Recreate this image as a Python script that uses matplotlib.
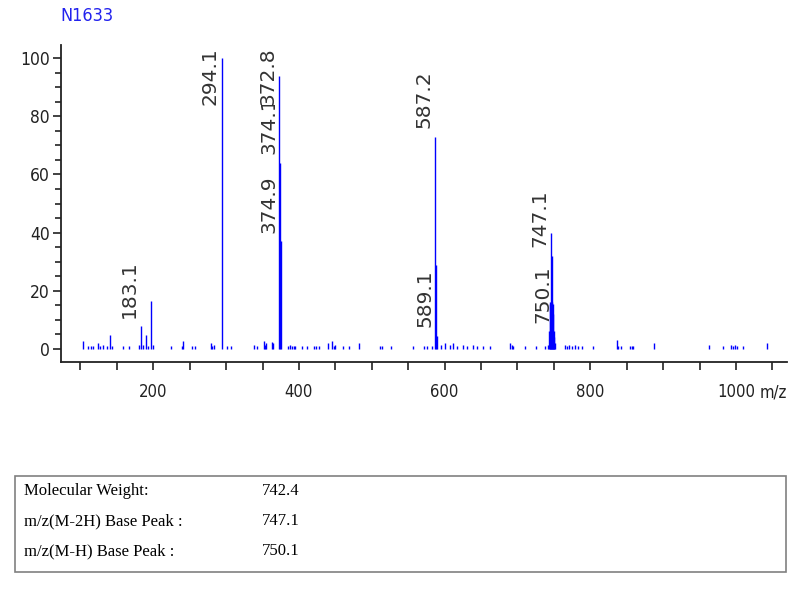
import matplotlib
matplotlib.use('Agg')
import matplotlib.pyplot as plt
from matplotlib.ticker import MultipleLocator
import matplotlib.patches as patches

# peak list (m/z, relative intensity %)
mz = [103, 111, 115, 117, 124, 127, 131, 137, 141, 143, 159, 166,
      180.4, 183.1, 186, 190, 192.3, 197.1, 199.6, 224, 239, 240.5, 253, 257,
      279, 281, 284, 294.1, 301, 307, 337.7, 342, 351.4, 353, 354.7, 363, 365,
      372.8, 374.1, 374.9, 385, 387, 390, 393, 395, 404, 411, 420, 424, 427,
      440, 446, 448, 450, 460, 468, 483, 511.5, 514, 526, 557, 571, 576, 583,
      587.2, 588.2, 589.1, 595, 601, 607, 612, 617, 625, 631, 639, 644, 653, 662,
      690, 692, 694, 710, 725, 738, 742,
      743.5, 744.3, 745.0, 745.4, 746.2, 747.1, 747.8, 748.6, 749.4, 750.1, 750.8, 751.5,
      765, 768, 771, 775, 779, 783, 788, 803, 836.3, 838, 842, 855, 857, 859, 887,
      963.5, 982, 993, 996, 999, 1001, 1010, 1042]
intensity = [2.6, 1, 1, 1, 2, 1, 1.5, 1, 4.8, 1, 1, 1,
             1.5, 7.8, 1.5, 4.8, 1, 16.5, 1.5, 1, 1, 2.6, 1, 1,
             2, 1, 1.5, 100, 1, 1, 1.5, 1, 2.6, 1.5, 2, 2.5, 2,
             94, 64, 37, 1, 1.5, 1, 1, 1, 1, 1, 1, 1, 1,
             2, 2.6, 1, 1.5, 1, 1, 2, 1, 1, 1, 1, 1, 1, 1,
             73, 29, 4.5, 1.5, 2, 1.5, 2, 1, 1.5, 1, 1.5, 1, 1, 1,
             2, 1.5, 1, 1, 1, 1, 1.5,
             6, 15.5, 16, 40, 16, 32, 16, 15.5, 12, 6, 4, 2,
             1.5, 1, 1.5, 1, 1.5, 1, 1, 1, 2.9, 1, 1, 1, 1, 1, 2,
             1.5, 1, 1.5, 1, 1.5, 1, 1, 2]

# labelled peaks
label_mz = [183.1, 294.1, 374.1, 374.9, 372.8, 587.2, 589.1, 747.1, 750.1]
label_text = ['183.1', '294.1', '374.1', '374.9', '372.8', '587.2', '589.1', '747.1', '750.1']

title = 'N1633'
info_names = ['Molecular Weight:', 'm/z(M-2H) Base Peak :', 'm/z(M-H) Base Peak :']
info_values = ['742.4', '747.1', '750.1']

narrow = dict(family='DejaVu Sans', stretch='condensed')
dark = '#222222'

fig = plt.figure(figsize=(8.07, 6.03), dpi=100)
ax = fig.add_axes([61 / 807, 1 - 362 / 603, 726 / 807, 317 / 603])

ax.vlines(mz, 0, intensity, color='#0000ff', linewidth=1.0)

# peak labels: just above the peak, pushed down if they run off the top
ymax = 104.5
label_len = 18
peak_of = dict(zip(mz, intensity))
for m, t in zip(label_mz, label_text):
    h = peak_of[m]
    if h + 3 + label_len > ymax:
        y, va = 103.8, 'top'
    else:
        y, va = h + 3, 'bottom'
    bbox = dict(facecolor='white', edgecolor='none', pad=0) if t == '372.8' else None
    ax.annotate(t, xy=(m, y), xytext=(-1.5, 0), textcoords='offset points',
                rotation=90, ha='right', va=va, fontsize=14.5,
                family='DejaVu Sans', color='#333333', bbox=bbox, zorder=5)

ax.set_xlim(73.3, 1070)
ax.set_ylim(-4.5, ymax)

ax.spines['top'].set_visible(False)
ax.spines['right'].set_visible(False)
for s in ('left', 'bottom'):
    ax.spines[s].set_color(dark)
    ax.spines[s].set_linewidth(1.3)

ax.xaxis.set_major_locator(MultipleLocator(200))
ax.xaxis.set_minor_locator(MultipleLocator(50))
ax.yaxis.set_major_locator(MultipleLocator(20))
ax.yaxis.set_minor_locator(MultipleLocator(5))
ax.set_yticks(range(0, 101, 20))
ax.set_xticks([200, 400, 600, 800, 1000])

ax.tick_params(axis='y', which='major', length=6, width=1.2, color=dark, pad=2)
ax.tick_params(axis='y', which='minor', length=4, width=1.2, color=dark)
ax.tick_params(axis='x', which='both', length=6, width=1.2, color=dark, pad=9)
for lab in ax.get_yticklabels():
    lab.set_family(narrow['family'])
    lab.set_stretch(narrow['stretch'])
    lab.set_fontsize(12.5)
    lab.set_color(dark)
for lab in ax.get_xticklabels():
    lab.set_family(narrow['family'])
    lab.set_stretch(narrow['stretch'])
    lab.set_fontsize(12)
    lab.set_color(dark)

ax.annotate('m/z', xy=(1.0, 0), xycoords='axes fraction', xytext=(0, -15.5),
            textcoords='offset points', ha='right', va='top',
            fontsize=12, color=dark, **narrow)

fig.text(60 / 807, 1 - 16 / 603, title, color='#2222ee',
         fontsize=13, ha='left', va='center', **narrow)

# info box under the spectrum
box = patches.Rectangle((15 / 807, 1 - 572 / 603), 771 / 807, 96 / 603,
                        transform=fig.transFigure, facecolor='none',
                        edgecolor='#808080', linewidth=1.2)
fig.add_artist(box)
for i, (n, v) in enumerate(zip(info_names, info_values)):
    yy = 1 - (491 + 30 * i) / 603
    fig.text(24 / 807, yy, n, family='Liberation Serif', fontsize=12, va='center')
    fig.text(262 / 807, yy, v, family='Liberation Serif', fontsize=12, va='center')

fig.savefig('out.png', dpi=100)
